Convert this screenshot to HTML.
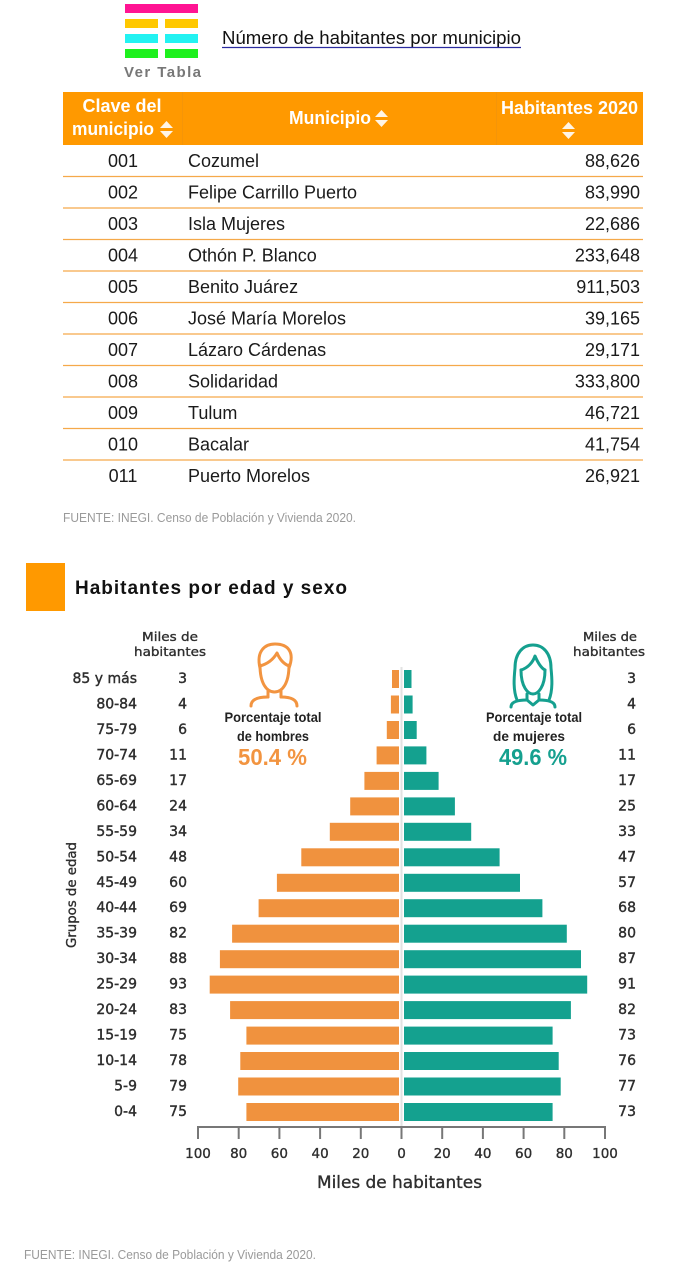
<!DOCTYPE html>
<html><head><meta charset="utf-8"><style>
html,body{margin:0;padding:0;background:#fff;width:688px;height:1280px;overflow:hidden}
svg{position:absolute;left:0;top:0}
</style></head><body>
<svg width="688" height="1280" viewBox="0 0 688 1280" xmlns="http://www.w3.org/2000/svg">
<!-- Logo -->
<rect x="125" y="4" width="73" height="9" fill="#FF1493"/>
<rect x="125" y="19" width="33" height="9" fill="#FFC800"/><rect x="165" y="19" width="33" height="9" fill="#FFC800"/>
<rect x="125" y="34" width="33" height="9" fill="#22F2F2"/><rect x="165" y="34" width="33" height="9" fill="#22F2F2"/>
<rect x="125" y="49" width="33" height="9" fill="#1EF01E"/><rect x="165" y="49" width="33" height="9" fill="#1EF01E"/>
<text x="124" y="77" font-family="Liberation Sans, sans-serif" font-weight="bold" font-size="15" fill="#777" textLength="77" lengthAdjust="spacing">Ver Tabla</text>
<text x="222" y="44" font-family="Liberation Sans, sans-serif" font-size="18" fill="#111" textLength="299" lengthAdjust="spacingAndGlyphs">Número de habitantes por municipio</text>
<line x1="222" y1="47.5" x2="521" y2="47.5" stroke="#2a2aa0" stroke-width="1.2"/>

<!-- Table header -->
<rect x="63" y="92" width="580" height="53" fill="#FF9900"/>
<line x1="182.5" y1="92" x2="182.5" y2="145" stroke="#F59508" stroke-width="1"/>
<line x1="496.5" y1="92" x2="496.5" y2="145" stroke="#F59508" stroke-width="1"/>
<g font-family="Liberation Sans, sans-serif" font-weight="bold" font-size="18" fill="#fff">
<text x="122" y="112" text-anchor="middle">Clave del</text>
<text x="72" y="135" textLength="82" lengthAdjust="spacingAndGlyphs">municipio</text>
<text x="289" y="124" textLength="82" lengthAdjust="spacingAndGlyphs">Municipio</text>
<text x="501" y="114" textLength="137" lengthAdjust="spacingAndGlyphs">Habitantes 2020</text>
</g>
<g fill="#fff" opacity="0.9">
<polygon points="160,128 173,128 166.5,121"/><polygon points="160,131 173,131 166.5,138"/>
<polygon points="375,117 388,117 381.5,110"/><polygon points="375,120 388,120 381.5,127"/>
<polygon points="562,129 575,129 568.5,122"/><polygon points="562,132 575,132 568.5,139"/>
</g>

<!-- Table rows -->
<g stroke="#F5A94A" stroke-width="1.2">
<line x1="63" y1="176.5" x2="643" y2="176.5"/>
<line x1="63" y1="208" x2="643" y2="208"/>
<line x1="63" y1="239.5" x2="643" y2="239.5"/>
<line x1="63" y1="271" x2="643" y2="271"/>
<line x1="63" y1="302.5" x2="643" y2="302.5"/>
<line x1="63" y1="334" x2="643" y2="334"/>
<line x1="63" y1="365.5" x2="643" y2="365.5"/>
<line x1="63" y1="397" x2="643" y2="397"/>
<line x1="63" y1="428.5" x2="643" y2="428.5"/>
<line x1="63" y1="460" x2="643" y2="460"/>
</g>
<g font-family="Liberation Sans, sans-serif" font-size="18" fill="#1a1a1a">
<text x="123" y="167" text-anchor="middle">001</text><text x="188" y="167">Cozumel</text><text x="640" y="167" text-anchor="end">88,626</text>
<text x="123" y="198.5" text-anchor="middle">002</text><text x="188" y="198.5">Felipe Carrillo Puerto</text><text x="640" y="198.5" text-anchor="end">83,990</text>
<text x="123" y="230" text-anchor="middle">003</text><text x="188" y="230">Isla Mujeres</text><text x="640" y="230" text-anchor="end">22,686</text>
<text x="123" y="261.5" text-anchor="middle">004</text><text x="188" y="261.5">Othón P. Blanco</text><text x="640" y="261.5" text-anchor="end">233,648</text>
<text x="123" y="293" text-anchor="middle">005</text><text x="188" y="293">Benito Juárez</text><text x="640" y="293" text-anchor="end">911,503</text>
<text x="123" y="324.5" text-anchor="middle">006</text><text x="188" y="324.5">José María Morelos</text><text x="640" y="324.5" text-anchor="end">39,165</text>
<text x="123" y="356" text-anchor="middle">007</text><text x="188" y="356">Lázaro Cárdenas</text><text x="640" y="356" text-anchor="end">29,171</text>
<text x="123" y="387.5" text-anchor="middle">008</text><text x="188" y="387.5">Solidaridad</text><text x="640" y="387.5" text-anchor="end">333,800</text>
<text x="123" y="419" text-anchor="middle">009</text><text x="188" y="419">Tulum</text><text x="640" y="419" text-anchor="end">46,721</text>
<text x="123" y="450.5" text-anchor="middle">010</text><text x="188" y="450.5">Bacalar</text><text x="640" y="450.5" text-anchor="end">41,754</text>
<text x="123" y="482" text-anchor="middle">011</text><text x="188" y="482">Puerto Morelos</text><text x="640" y="482" text-anchor="end">26,921</text>
</g>
<text x="63" y="522" font-family="Liberation Sans, sans-serif" font-size="12.5" fill="#9a9a9a" textLength="293" lengthAdjust="spacingAndGlyphs">FUENTE: INEGI. Censo de Población y Vivienda 2020.</text>

<!-- Section title -->
<rect x="26" y="563" width="39" height="48" fill="#FF9900"/>
<text x="75" y="594" font-family="Liberation Sans, sans-serif" font-weight="bold" font-size="19" fill="#111" textLength="272" lengthAdjust="spacing">Habitantes por edad y sexo</text>

<!-- Chart headers -->
<g font-family="DejaVu Sans, Liberation Sans, sans-serif" fill="#2e2e2e" stroke="#2e2e2e" stroke-width="0.35">
<text x="170" y="641" font-size="12.5" text-anchor="middle" textLength="56" lengthAdjust="spacingAndGlyphs">Miles de</text>
<text x="170" y="656" font-size="12.5" text-anchor="middle" textLength="72" lengthAdjust="spacingAndGlyphs">habitantes</text>
<text x="610" y="641" font-size="12.5" text-anchor="middle" textLength="54" lengthAdjust="spacingAndGlyphs">Miles de</text>
<text x="609" y="656" font-size="12.5" text-anchor="middle" textLength="72" lengthAdjust="spacingAndGlyphs">habitantes</text>
<text transform="translate(76,895) rotate(-90)" font-size="13.5" text-anchor="middle" textLength="106" lengthAdjust="spacingAndGlyphs">Grupos de edad</text>
</g>

<!-- center gray line -->
<line x1="401.5" y1="667" x2="401.5" y2="1126" stroke="#e2e2e2" stroke-width="2"/>

<!-- Axis -->
<g stroke="#777" stroke-width="2">
<line x1="197" y1="1127" x2="606" y2="1127"/>
<line x1="198" y1="1127" x2="198" y2="1139"/>
<line x1="238.7" y1="1127" x2="238.7" y2="1139"/>
<line x1="279.4" y1="1127" x2="279.4" y2="1139"/>
<line x1="320.1" y1="1127" x2="320.1" y2="1139"/>
<line x1="360.8" y1="1127" x2="360.8" y2="1139"/>
<line x1="401.5" y1="1127" x2="401.5" y2="1139"/>
<line x1="442.2" y1="1127" x2="442.2" y2="1139"/>
<line x1="482.9" y1="1127" x2="482.9" y2="1139"/>
<line x1="523.6" y1="1127" x2="523.6" y2="1139"/>
<line x1="564.3" y1="1127" x2="564.3" y2="1139"/>
<line x1="605" y1="1127" x2="605" y2="1139"/>
</g>
<g font-family="DejaVu Sans, Liberation Sans, sans-serif" font-size="13.5" fill="#2e2e2e" stroke="#2e2e2e" stroke-width="0.35" text-anchor="middle">
<text x="198" y="1158">100</text><text x="238.7" y="1158">80</text><text x="279.4" y="1158">60</text><text x="320.1" y="1158">40</text><text x="360.8" y="1158">20</text><text x="401.5" y="1158">0</text><text x="442.2" y="1158">20</text><text x="482.9" y="1158">40</text><text x="523.6" y="1158">60</text><text x="564.3" y="1158">80</text><text x="605" y="1158">100</text>
<text x="399.5" y="1188" font-size="16.5" textLength="165" lengthAdjust="spacingAndGlyphs">Miles de habitantes</text>
</g>

<!-- Man icon -->
<g fill="none" stroke="#F29440" stroke-width="3" stroke-linecap="round" stroke-linejoin="round">
<path d="M260,668 C256,651 265,644 275,644 C288,644 295,652 289,668"/>
<path d="M260,665 C260,684 267,692 274.5,692 C282,692 289,684 289,665"/>
<path d="M260,666 C267,664 273,660 277,653 C280,660 284,664 289,666"/>
<path d="M268,691 L268,697 M281,691 L281,697"/>
<path d="M251,706 C251,700 257,697 268,697 M281,697 C292,697 297,700 297,706"/>
</g>
<g font-family="Liberation Sans, sans-serif" font-weight="bold" text-anchor="middle">
<text x="273" y="722" font-size="14" fill="#222" textLength="97" lengthAdjust="spacingAndGlyphs">Porcentaje total</text>
<text x="273" y="741" font-size="14" fill="#222" textLength="72" lengthAdjust="spacingAndGlyphs">de hombres</text>
<text x="272.5" y="765" font-size="23" fill="#F29440" textLength="69" lengthAdjust="spacingAndGlyphs">50.4 %</text>
</g>

<!-- Woman icon -->
<g fill="none" stroke="#15A08F" stroke-width="3" stroke-linecap="round" stroke-linejoin="round">
<path d="M517,700 C513,690 514,678 515,668 C515,653 523,645 533,645 C543,645 551,653 551,668 C552,678 553,690 549,700"/>
<path d="M521,670 C521,687 528,694 533,694 C538,694 545,687 545,670"/>
<path d="M521,670 C528,668 533,662 535,656 C538,663 541,668 545,670"/>
<path d="M527,694 L527,700 L533,705 L539,700 L539,694"/>
<path d="M511,707 C511,702 517,700 527,700 M539,700 C549,700 555,702 555,707"/>
</g>
<g font-family="Liberation Sans, sans-serif" font-weight="bold" text-anchor="middle">
<text x="534" y="722" font-size="14" fill="#222" textLength="96" lengthAdjust="spacingAndGlyphs">Porcentaje total</text>
<text x="529" y="741" font-size="14" fill="#222" textLength="72" lengthAdjust="spacingAndGlyphs">de mujeres</text>
<text x="533" y="765" font-size="23" fill="#15A08F" textLength="68" lengthAdjust="spacingAndGlyphs">49.6 %</text>
</g>

<text x="24" y="1259" font-family="Liberation Sans, sans-serif" font-size="12.5" fill="#9a9a9a" textLength="292" lengthAdjust="spacingAndGlyphs">FUENTE: INEGI. Censo de Población y Vivienda 2020.</text>

<!-- Row labels -->
<g font-family="DejaVu Sans, Liberation Sans, sans-serif" font-size="14" fill="#2e2e2e" stroke="#2e2e2e" stroke-width="0.4">
<text x="137" y="683" text-anchor="end">85 y más</text><text x="187" y="683" text-anchor="end">3</text><text x="636" y="683" text-anchor="end">3</text>
<text x="137" y="708.5" text-anchor="end">80-84</text><text x="187" y="708.5" text-anchor="end">4</text><text x="636" y="708.5" text-anchor="end">4</text>
<text x="137" y="734" text-anchor="end">75-79</text><text x="187" y="734" text-anchor="end">6</text><text x="636" y="734" text-anchor="end">6</text>
<text x="137" y="759.4" text-anchor="end">70-74</text><text x="187" y="759.4" text-anchor="end">11</text><text x="636" y="759.4" text-anchor="end">11</text>
<text x="137" y="784.9" text-anchor="end">65-69</text><text x="187" y="784.9" text-anchor="end">17</text><text x="636" y="784.9" text-anchor="end">17</text>
<text x="137" y="810.4" text-anchor="end">60-64</text><text x="187" y="810.4" text-anchor="end">24</text><text x="636" y="810.4" text-anchor="end">25</text>
<text x="137" y="835.8" text-anchor="end">55-59</text><text x="187" y="835.8" text-anchor="end">34</text><text x="636" y="835.8" text-anchor="end">33</text>
<text x="137" y="861.3" text-anchor="end">50-54</text><text x="187" y="861.3" text-anchor="end">48</text><text x="636" y="861.3" text-anchor="end">47</text>
<text x="137" y="886.8" text-anchor="end">45-49</text><text x="187" y="886.8" text-anchor="end">60</text><text x="636" y="886.8" text-anchor="end">57</text>
<text x="137" y="912.2" text-anchor="end">40-44</text><text x="187" y="912.2" text-anchor="end">69</text><text x="636" y="912.2" text-anchor="end">68</text>
<text x="137" y="937.7" text-anchor="end">35-39</text><text x="187" y="937.7" text-anchor="end">82</text><text x="636" y="937.7" text-anchor="end">80</text>
<text x="137" y="963.2" text-anchor="end">30-34</text><text x="187" y="963.2" text-anchor="end">88</text><text x="636" y="963.2" text-anchor="end">87</text>
<text x="137" y="988.6" text-anchor="end">25-29</text><text x="187" y="988.6" text-anchor="end">93</text><text x="636" y="988.6" text-anchor="end">91</text>
<text x="137" y="1014.1" text-anchor="end">20-24</text><text x="187" y="1014.1" text-anchor="end">83</text><text x="636" y="1014.1" text-anchor="end">82</text>
<text x="137" y="1039.6" text-anchor="end">15-19</text><text x="187" y="1039.6" text-anchor="end">75</text><text x="636" y="1039.6" text-anchor="end">73</text>
<text x="137" y="1065" text-anchor="end">10-14</text><text x="187" y="1065" text-anchor="end">78</text><text x="636" y="1065" text-anchor="end">76</text>
<text x="137" y="1090.5" text-anchor="end">5-9</text><text x="187" y="1090.5" text-anchor="end">79</text><text x="636" y="1090.5" text-anchor="end">77</text>
<text x="137" y="1116" text-anchor="end">0-4</text><text x="187" y="1116" text-anchor="end">75</text><text x="636" y="1116" text-anchor="end">73</text>
</g>
<g fill="#F0923E">
<rect x="392" y="670" width="7" height="18"/>
<rect x="390.9" y="695.5" width="8.1" height="18"/>
<rect x="386.8" y="721" width="12.2" height="18"/>
<rect x="376.6" y="746.4" width="22.4" height="18"/>
<rect x="364.4" y="771.9" width="34.6" height="18"/>
<rect x="350.2" y="797.4" width="48.8" height="18"/>
<rect x="329.8" y="822.8" width="69.2" height="18"/>
<rect x="301.3" y="848.3" width="97.7" height="18"/>
<rect x="276.9" y="873.8" width="122.1" height="18"/>
<rect x="258.6" y="899.2" width="140.4" height="18"/>
<rect x="232.1" y="924.7" width="166.9" height="18"/>
<rect x="219.9" y="950.2" width="179.1" height="18"/>
<rect x="209.7" y="975.6" width="189.3" height="18"/>
<rect x="230.1" y="1001.1" width="168.9" height="18"/>
<rect x="246.4" y="1026.6" width="152.6" height="18"/>
<rect x="240.3" y="1052" width="158.7" height="18"/>
<rect x="238.2" y="1077.5" width="160.8" height="18"/>
<rect x="246.4" y="1103" width="152.6" height="18"/>
</g>
<g fill="#14A18F">
<rect x="404" y="670" width="7.5" height="18"/>
<rect x="404" y="695.5" width="8.6" height="18"/>
<rect x="404" y="721" width="12.7" height="18"/>
<rect x="404" y="746.4" width="22.4" height="18"/>
<rect x="404" y="771.9" width="34.6" height="18"/>
<rect x="404" y="797.4" width="50.9" height="18"/>
<rect x="404" y="822.8" width="67.2" height="18"/>
<rect x="404" y="848.3" width="95.6" height="18"/>
<rect x="404" y="873.8" width="116" height="18"/>
<rect x="404" y="899.2" width="138.4" height="18"/>
<rect x="404" y="924.7" width="162.8" height="18"/>
<rect x="404" y="950.2" width="177" height="18"/>
<rect x="404" y="975.6" width="183.2" height="18"/>
<rect x="404" y="1001.1" width="166.9" height="18"/>
<rect x="404" y="1026.6" width="148.6" height="18"/>
<rect x="404" y="1052" width="154.7" height="18"/>
<rect x="404" y="1077.5" width="156.7" height="18"/>
<rect x="404" y="1103" width="148.6" height="18"/>
</g>
</svg>
</body></html>
